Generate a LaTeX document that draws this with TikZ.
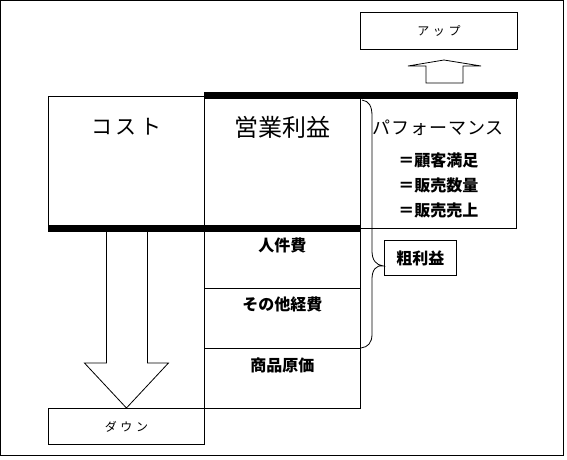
\documentclass[tikz,border=0pt]{standalone}
\usepackage{fontspec}
\setmainfont{Noto Sans CJK JP}
\usetikzlibrary{positioning, calc}

\begin{document}
\begin{tikzpicture}[x=1pt, y=-1pt, line width=0.9pt,
  cell/.style={draw, rectangle, inner sep=0pt, anchor=north west},
  bigtext/.style={font=\fontsize{22}{26}\selectfont},
  midtext/.style={font=\fontsize{16}{19}\selectfont\bfseries},
  tinytext/.style={font=\fontsize{12}{14}\selectfont\addfontfeatures{LetterSpace=30}},
  bar/.style={line width=7pt},
  blockarrow/.style={draw, fill=white, line width=0.8pt, line join=miter}]
\useasboundingbox (0,0) rectangle (567,459);
\draw (0.75,0.75) rectangle (563.5,455.5);

% upper row
\node[cell, minimum width=156pt, minimum height=132pt] (cost) at (48,96) {};
\node[cell, minimum width=156pt, minimum height=132pt] (profit) at (204,96) {};
\node[cell, minimum width=156pt, minimum height=132pt] (perf) at (360,96) {};
\node[bigtext, font=\fontsize{21}{26}\selectfont\addfontfeatures{LetterSpace=15}] (costlabel) at ($(cost.north)+(0,31)$) {コスト};
\node[bigtext, font=\fontsize{24}{28}\selectfont] (profitlabel) at ($(profit.north)+(0,31)$) {営業利益};
\node[font=\fontsize{18}{22}\selectfont\addfontfeatures{LetterSpace=5}] (perflabel) at ($(perf.north)+(0,32)$) {パフォーマンス};
\node[midtext] (satis) at ($(perf.north)+(0,64)$) {＝顧客満足};
\node[midtext] (volume) at ($(perf.north)+(0,89)$) {＝販売数量};
\node[midtext] (sales) at ($(perf.north)+(0,114)$) {＝販売売上};

% cost breakdown
\node[cell, minimum width=156pt, minimum height=60pt] (labor) at (204,228) {};
\node[cell, minimum width=156pt, minimum height=60pt] (other) at (204,288) {};
\node[cell, minimum width=156pt, minimum height=60pt] (goods) at (204,348) {};
\node[midtext] (laborlabel) at ($(labor.north)+(0,17)$) {人件費};
\node[midtext] (otherlabel) at ($(other.north)+(0,16)$) {その他経費};
\node[midtext] (goodslabel) at ($(goods.north)+(0,17)$) {商品原価};

% up / down
\node[cell, minimum width=157pt, minimum height=37pt] (up) at (360,12) {};
\node[tinytext] at (up.center) {アップ};
\node[cell, minimum width=156pt, minimum height=36pt] (down) at (48,408) {};
\node[tinytext] at (down.center) {ダウン};

\draw[blockarrow] ($(down.north)+(-20,-179)$) -- ($(down.north)+(-20,-45)$)
  -- ($(down.north)+(-42,-45)$) -- (down.north) -- ($(down.north)+(42,-45)$)
  -- ($(down.north)+(21,-45)$) -- ($(down.north)+(21,-179)$);
\coordinate (uptip) at (444,60);
\draw[blockarrow] ($(uptip)+(-18,23)$) -- ($(uptip)+(-18,6)$) -- ($(uptip)+(-36,6)$)
  -- (uptip) -- ($(uptip)+(37,6)$) -- ($(uptip)+(19,6)$) -- ($(uptip)+(19,23)$) -- cycle;

% thick bars
\draw[bar] (profit.north west) ++(0,-0.5) -- ($(perf.north east)+(1,-0.5)$);
\draw[bar] (cost.south west) -- (profit.south east);

% gross margin brace
\node[draw, inner sep=0pt, minimum width=72pt, minimum height=35pt, anchor=north west,
  midtext] (gross) at (384,240) {粗利益};
\coordinate (bracetip) at ($(gross.south west)+(-1,-10)$);
\draw[line width=0.8pt] (362,100) .. controls (369,101) and (372,106) .. (372,116)
  -- (372,251) .. controls (372,260) and (376,265) .. (bracetip)
  .. controls (376,265) and (372,270) .. (372,279)
  -- (372,334) .. controls (372,343) and (368,347) .. (361,348);
\end{tikzpicture}
\end{document}
